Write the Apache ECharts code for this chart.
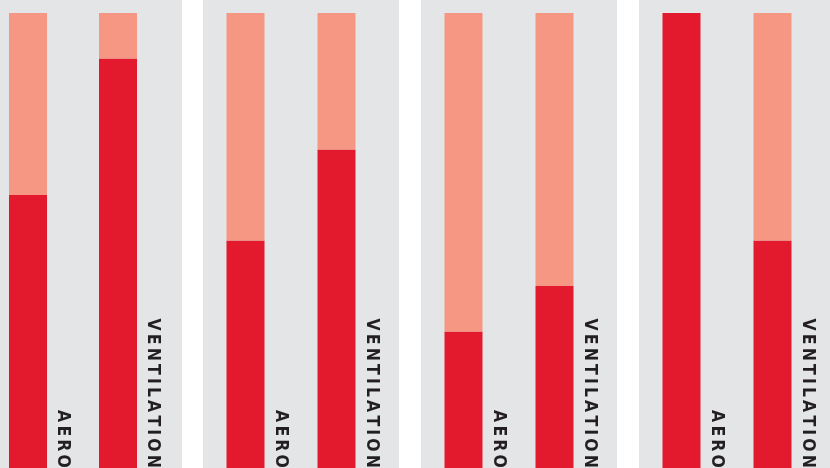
<!DOCTYPE html>
<html>
<head>
<meta charset="utf-8">
<script src="https://cdn.jsdelivr.net/npm/echarts@6/dist/echarts.min.js"></script>
<style>
	html, body { margin: 0; padding: 0; background: #ffffff; }
	#main { width: 830px; height: 468px; }
</style>
</head>
<body>
<div id="main"></div>
<script>
	// categories of every panel
	var categories = ['AERO', 'VENTILATION']

	// share (%) in red, rest of the bar in salmon, one pair per panel
	var redValues = [
		[60, 90],
		[50, 70],
		[30, 40],
		[100, 50]
	]
	var restValues = [
		[40, 10],
		[50, 30],
		[70, 60],
		[0, 50]
	]

	var panelLeft = [-14, 203, 421, 639]
	var gridLeft = [-17, 200, 418, 636]
	var gridWidth = [180, 182, 182, 182]

	var chart = echarts.init(document.getElementById('main'))

	var grids = []
	var xAxes = []
	var yAxes = []
	var series = []
	var graphics = []

	for (var i = 0; i < redValues.length; i++) {
		// grey panel behind each pair
		graphics.push({
			type: 'rect',
			silent: true,
			z: -10,
			shape: { x: panelLeft[i], y: 0, width: 196, height: 468 },
			style: { fill: '#e4e5e7' }
		})
		grids.push({ left: gridLeft[i], width: gridWidth[i], top: 13, bottom: 0, containLabel: false, outerBoundsMode: 'none' })
		xAxes.push({ type: 'category', gridIndex: i, data: categories, show: false })
		yAxes.push({ type: 'value', gridIndex: i, min: 0, max: 100, show: false })
		series.push({
			type: 'bar',
			xAxisIndex: i,
			yAxisIndex: i,
			stack: 'p' + i,
			barWidth: 38,
			data: redValues[i],
			itemStyle: { color: '#e31a2e' },
			label: {
				show: true,
				position: [54, '100%'],
				rotate: -90,
				align: 'right',
				verticalAlign: 'middle',
				color: '#231f20',
				fontFamily: '"DejaVu Sans Condensed", "DejaVu Sans", sans-serif',
				fontWeight: 'bold',
				fontSize: 17.5,
				formatter: function (p) {
					// spaced-out letters
					return p.name.split('').join('\u2009')
				}
			}
		})
		series.push({
			type: 'bar',
			xAxisIndex: i,
			yAxisIndex: i,
			stack: 'p' + i,
			barWidth: 38,
			data: restValues[i],
			itemStyle: { color: '#f69784' }
		})
	}

	chart.setOption({
		animation: false,
		graphic: graphics,
		grid: grids,
		xAxis: xAxes,
		yAxis: yAxes,
		series: series
	})
</script>
</body>
</html>
